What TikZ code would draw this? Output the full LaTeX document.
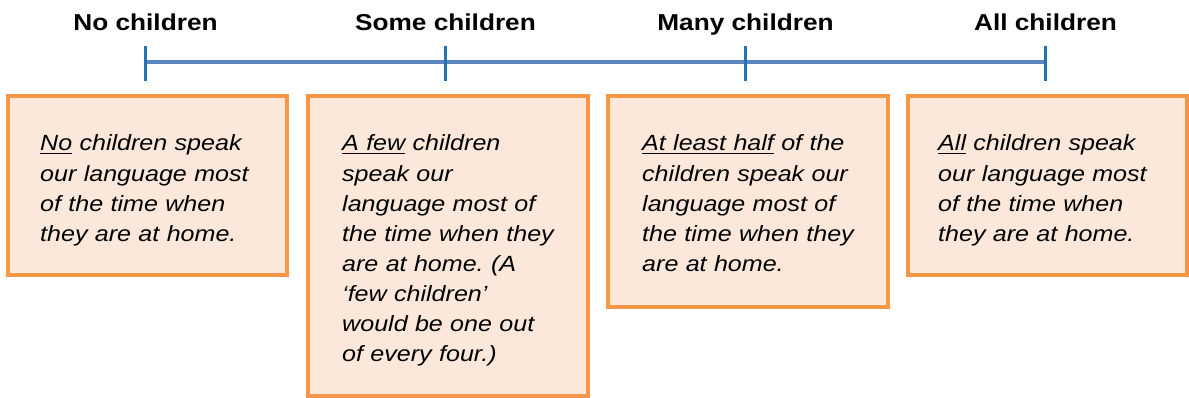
\documentclass[tikz,border=0pt]{standalone}
\usepackage{fontspec}
\setmainfont[FakeStretch=1.14]{Liberation Sans}
\frenchspacing
\newcommand{\myul}[1]{\setbox0\hbox{#1}\rlap{\rule[-3.4pt]{\wd0}{1.8pt}}\box0\relax}
\definecolor{boxline}{HTML}{F79646}
\definecolor{boxfill}{HTML}{FCE8DA}
\definecolor{axisblue}{HTML}{5B86C2}
\definecolor{tickblue}{HTML}{2372B5}
\tikzset{
  axisline/.style={draw=axisblue, line width=3.5pt},
  tickmark/.style={draw=tickblue, line width=3pt},
  header/.style={anchor=base, inner sep=0pt, font=\fontsize{23}{28}\selectfont\bfseries},
  card/.style={draw=boxline, fill=boxfill, line width=4pt},
  cardtext/.style={anchor=base west, inner sep=0pt, text width=250pt, align=left,
    font=\fontsize{22}{30.1}\selectfont\itshape\frenchspacing},
}
\begin{document}
\begin{tikzpicture}[x=1pt, y=-1pt]
\useasboundingbox (0,0) rectangle (1189,398);
% timeline
\coordinate (t1) at (145.5,62);
\coordinate (t2) at (445.5,62);
\coordinate (t3) at (745.5,62);
\coordinate (t4) at (1045.5,62);
\draw[axisline] (t1) -- (t4);
\foreach \t in {t1,t2,t3,t4}{
  \draw[tickmark] ([yshift=15.5pt]\t) -- ([yshift=-19pt]\t);
}
% headers
\node[header] (h1) at (145.5,31) {No children};
\node[header] (h2) at (445.5,31) {Some children};
\node[header] (h3) at (745.5,31) {Many children};
\node[header] (h4) at (1045.5,31) {All children};
% boxes
\draw[card] (8,96) rectangle (287,275);
\draw[card] (308,96) rectangle (588,396);
\draw[card] (608,96) rectangle (888,307);
\draw[card] (908,96) rectangle (1187,275);
% texts
\node[cardtext] (b1) at (40,151) {\myul{No} children speak\\our language most\\of the time when\\they are at home.};
\node[cardtext] (b2) at (342,151) {\myul{A few} children\\speak our\\language most of\\the time when they\\are at home. (A\\‘few children’\\would be one out\\of every four.)};
\node[cardtext] (b3) at (642,151) {\myul{At least half} of the\\children speak our\\language most of\\the time when they\\are at home.};
\node[cardtext] (b4) at (938,151) {\myul{All} children speak\\our language most\\of the time when\\they are at home.};
\end{tikzpicture}
\end{document}
